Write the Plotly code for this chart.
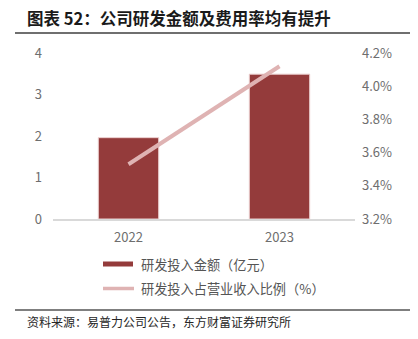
import plotly.graph_objects as go

categories = ["2022", "2023"]
rd_amount = [1.96, 3.49]          # 研发投入金额（亿元）
rd_ratio = [3.53, 4.12]           # 研发投入占营业收入比例（%）
left_ticks = [0, 1, 2, 3, 4]
right_ticks = [3.2, 3.4, 3.6, 3.8, 4.0, 4.2]
right_tick_text = ["3.2%", "3.4%", "3.6%", "3.8%", "4.0%", "4.2%"]

title_text = "图表 52：公司研发金额及费用率均有提升"
legend_names = ["研发投入金额（亿元）", "研发投入占营业收入比例（%）"]
source_text = "资料来源：易普力公司公告，东方财富证券研究所"

BAR_COLOR = "#943b3b"
LINE_COLOR = "#dfb3b3"
TICK_COLOR = "#6e6e6e"
FONT = "Noto Sans CJK SC"

W, H = 418, 339
L, R, T, B = 53, 355, 53, 219   # plot area in pixels


def px(x):
    return (x - L) / (R - L)


def py(y):
    return (B - y) / (B - T)


fig = go.Figure()
fig.add_trace(go.Bar(
    x=categories, y=rd_amount, name=legend_names[0],
    marker=dict(color=BAR_COLOR, line=dict(color="#ecd0d0", width=1)),
    width=0.4, yaxis="y", showlegend=False,
))
fig.add_trace(go.Scatter(
    x=categories, y=rd_ratio, name=legend_names[1], mode="lines",
    line=dict(color=LINE_COLOR, width=4), yaxis="y2", showlegend=False,
))

shapes = [
    dict(type="line", xref="paper", yref="paper", x0=px(15), x1=px(410),
         y0=py(33), y1=py(33), line=dict(color="#3f3f3f", width=1.5)),
    dict(type="line", xref="paper", yref="paper", x0=px(15), x1=px(410),
         y0=py(310), y1=py(310), line=dict(color="#7f7f7f", width=2)),
    dict(type="rect", xref="paper", yref="paper", x0=px(103), x1=px(133),
         y0=py(261.5), y1=py(266.5), fillcolor=BAR_COLOR, line=dict(width=0)),
    dict(type="line", xref="paper", yref="paper", x0=px(103), x1=px(134),
         y0=py(288.5), y1=py(288.5), line=dict(color=LINE_COLOR, width=3.5)),
]

annotations = [
    dict(text=title_text, xref="paper", yref="paper", x=px(25), y=py(18),
         xanchor="left", yanchor="middle", showarrow=False,
         font=dict(family=FONT, size=16.5, color="#1a1a1a", weight="bold")),
    dict(text=legend_names[0], xref="paper", yref="paper", x=px(139), y=py(264),
         xanchor="left", yanchor="middle", showarrow=False,
         font=dict(family=FONT, size=13.2, color="#555555")),
    dict(text=legend_names[1], xref="paper", yref="paper", x=px(139), y=py(288.5),
         xanchor="left", yanchor="middle", showarrow=False,
         font=dict(family=FONT, size=13.2, color="#555555")),
    dict(text=source_text, xref="paper", yref="paper", x=px(25), y=py(321),
         xanchor="left", yanchor="middle", showarrow=False,
         font=dict(family=FONT, size=12, color="#262626")),
]

fig.update_layout(
    width=W, height=H,
    margin=dict(l=L, r=W - R, t=T, b=H - B, pad=0),
    paper_bgcolor="white", plot_bgcolor="white",
    font=dict(family=FONT, color=TICK_COLOR),
    xaxis=dict(type="category", showgrid=False, showline=True,
               linecolor="#d9d9d9", linewidth=1.5, ticks="",
               tickfont=dict(size=13, color=TICK_COLOR), ticklabelstandoff=6,
               range=[-0.5, 1.5]),
    yaxis=dict(range=[0, 4], tickvals=left_ticks, showgrid=False,
               zeroline=False, showline=False, ticks="",
               tickfont=dict(size=13, color=TICK_COLOR), ticklabelstandoff=10),
    yaxis2=dict(range=[3.2, 4.2], tickvals=right_ticks, ticktext=right_tick_text,
                overlaying="y", side="right", showgrid=False, zeroline=False,
                showline=False, ticks="",
                tickfont=dict(size=13, color=TICK_COLOR), ticklabelstandoff=6),
    shapes=shapes, annotations=annotations,
    showlegend=False, bargap=0.6,
)

fig.write_html("out.html")
